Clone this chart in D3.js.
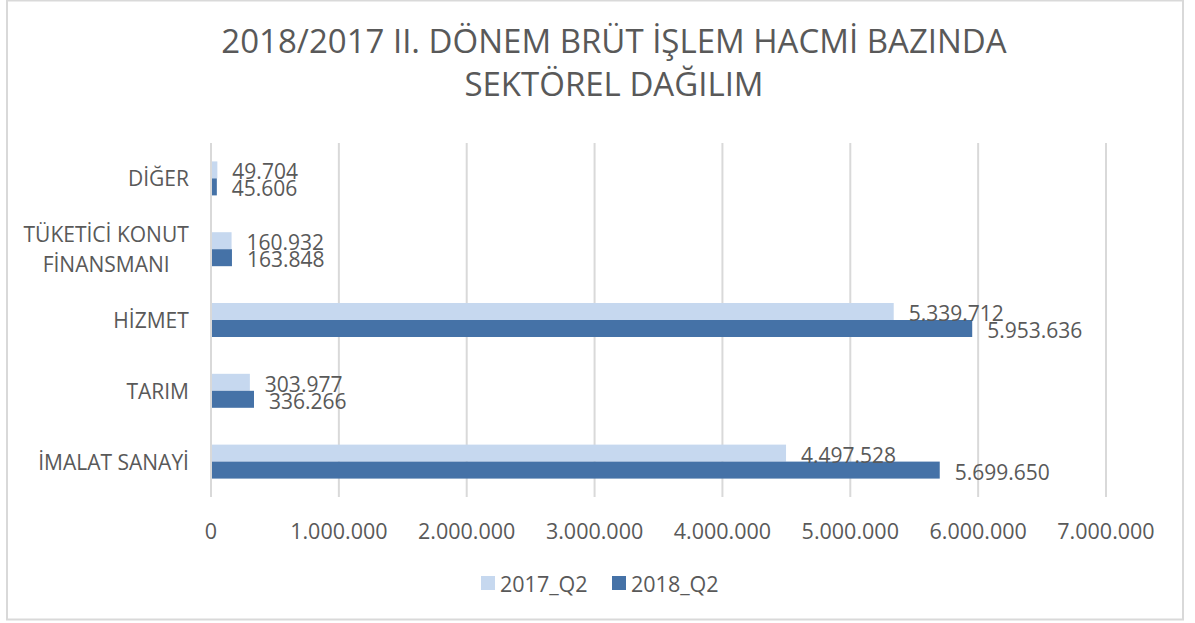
<!DOCTYPE html>
<html>
<head>
<meta charset="utf-8">
<script src="https://cdn.jsdelivr.net/npm/d3@7"></script>
<style>
  body { margin: 0; background: #fff; }
  text { font-family: "Open Sans", sans-serif; fill: #595959; }
</style>
</head>
<body>
<svg id="mainsvg" width="1195" height="623"></svg>
<script>
const svg = d3.select('#mainsvg');

// data
const categories = ['DİĞER', 'TÜKETİCİ KONUT FİNANSMANI', 'HİZMET', 'TARIM', 'İMALAT SANAYİ'];
const categoryLines = [['DİĞER'], ['TÜKETİCİ KONUT', 'FİNANSMANI'], ['HİZMET'], ['TARIM'], ['İMALAT SANAYİ']];
const seriesNames = ['2017_Q2', '2018_Q2'];
const values2017 = [49704, 160932, 5339712, 303977, 4497528];
const values2018 = [45606, 163848, 5953636, 336266, 5699650];
const xTicks = [0, 1000000, 2000000, 3000000, 4000000, 5000000, 6000000, 7000000];
const titleLines = ['2018/2017 II. DÖNEM BRÜT İŞLEM HACMİ BAZINDA', 'SEKTÖREL DAĞILIM'];

const colors = {'2017_Q2': '#C6D8EF', '2018_Q2': '#4572A7'};
const plot = {left: 211, right: 1106, top: 143, bottom: 497};

// thousands with dots
const fmt = d3.formatLocale({decimal: ',', thousands: '.', grouping: [3], currency: ['', '']}).format(',');

// chart border
svg.append('rect')
  .attr('x', 7).attr('y', 0.5).attr('width', 1176).attr('height', 619)
  .attr('fill', 'none').attr('stroke', '#D9D9D9').attr('stroke-width', 2);

// title
svg.append('g').selectAll('text')
  .data(titleLines)
  .join('text')
  .attr('x', 614)
  .attr('y', (d, i) => 40 + i * 43)
  .attr('text-anchor', 'middle')
  .attr('dominant-baseline', 'central')
  .style('font-size', '33px')
  .text(d => d);

const xScale = d3.scaleLinear().domain([0, 7000000]).range([plot.left, plot.right]);
const yScale = d3.scaleBand().domain(categories).range([plot.top, plot.bottom])
  .paddingInner(0.52).paddingOuter(0.26);
const ySub = d3.scaleBand().domain(seriesNames).range([0, yScale.bandwidth()]);

// grid lines
svg.append('g').selectAll('line')
  .data(xTicks)
  .join('line')
  .attr('x1', d => xScale(d)).attr('x2', d => xScale(d))
  .attr('y1', plot.top).attr('y2', plot.bottom)
  .attr('stroke', '#D9D9D9').attr('stroke-width', 2);

// x axis labels
svg.append('g').selectAll('text')
  .data(xTicks)
  .join('text')
  .attr('x', d => xScale(d))
  .attr('y', 530)
  .attr('text-anchor', 'middle')
  .attr('dominant-baseline', 'central')
  .style('font-size', '21.5px')
  .text(d => fmt(d));

// category labels (block right aligned, lines centred)
const catG = svg.append('g');
categories.forEach((c, i) => {
  const lines = categoryLines[i];
  const cy = yScale(c) + yScale.bandwidth() / 2;
  const t = catG.append('text')
    .attr('text-anchor', 'middle')
    .style('font-size', '21px');
  lines.forEach((l, j) => {
    t.append('tspan')
      .attr('x', 0)
      .attr('y', cy + (j - (lines.length - 1) / 2) * 30)
      .attr('dominant-baseline', 'central')
      .text(l);
  });
  const w = t.node().getBBox().width;
  t.selectAll('tspan').attr('x', 189 - w / 2);
});

// bars
const rows = categories.map((c, i) => ({cat: c, vals: [
  {series: '2017_Q2', value: values2017[i]},
  {series: '2018_Q2', value: values2018[i]}
]}));

const groups = svg.append('g').selectAll('g')
  .data(rows)
  .join('g')
  .attr('transform', d => `translate(0, ${yScale(d.cat)})`);

groups.selectAll('rect')
  .data(d => d.vals)
  .join('rect')
  .attr('x', xScale(0) + 1)
  .attr('y', d => ySub(d.series))
  .attr('width', d => xScale(d.value) - xScale(0) - 1)
  .attr('height', ySub.bandwidth())
  .attr('fill', d => colors[d.series]);

groups.selectAll('text')
  .data(d => d.vals)
  .join('text')
  .attr('x', d => xScale(d.value) + 15)
  .attr('y', d => ySub(d.series) + ySub.bandwidth() / 2 + 1.5)
  .attr('dominant-baseline', 'central')
  .style('font-size', '21px')
  .text(d => fmt(d.value));

// legend
const legend = svg.append('g');
const legendX = [481, 612];
seriesNames.forEach((s, i) => {
  legend.append('rect')
    .attr('x', legendX[i]).attr('y', 576)
    .attr('width', 14).attr('height', 14)
    .attr('fill', colors[s]);
  legend.append('text')
    .attr('x', legendX[i] + 19).attr('y', 583)
    .attr('dominant-baseline', 'central')
    .style('font-size', '21.5px')
    .text(s);
});
</script>
</body>
</html>
